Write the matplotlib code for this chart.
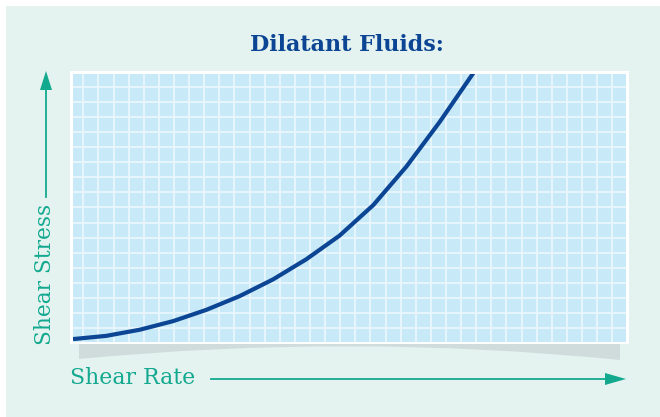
import matplotlib
matplotlib.use("Agg")
import matplotlib.pyplot as plt
import numpy as np
from matplotlib.patches import Rectangle, PathPatch, Polygon
from matplotlib.path import Path

# ---- data ----
shear_rate = [0, 6.0, 12.1, 18.1, 24.1, 30.1, 36.2, 42.2, 48.2, 54.3, 60.3, 66.3, 72.6]
shear_stress = [0.9, 2.1, 4.4, 7.6, 11.8, 16.9, 23.2, 30.7, 39.5, 50.9, 65.3, 81.9, 100.8]
title_text = "Dilatant Fluids:"
x_label = "Shear Rate"
y_label = "Shear Stress"

W, H = 660, 417
fig = plt.figure(figsize=(W / 100, H / 100), dpi=100)
fig.patch.set_facecolor("white")

def fx(x):
    return x / W

def fy(y):
    return 1 - y / H

MINT = "#e5f3f0"
TEAL = "#12a98f"
NAVY = "#0b4594"
BLUE = "#c8e9f8"
GRIDC = "#eaf6fd"
SHADOW = "#cfdcdb"

# mint background
fig.patches.append(Rectangle((fx(6), 0), 1 - fx(6), fy(6), transform=fig.transFigure,
                             facecolor=MINT, edgecolor="none", zorder=0))

# shadow under the panel
verts = [(fx(79), fy(343)), (fx(620), fy(343)), (fx(620), fy(360)),
         (fx(350), fy(333)), (fx(79), fy(359)), (fx(79), fy(343))]
codes = [Path.MOVETO, Path.LINETO, Path.LINETO, Path.CURVE3, Path.CURVE3, Path.CLOSEPOLY]
fig.patches.append(PathPatch(Path(verts, codes), transform=fig.transFigure,
                             facecolor=SHADOW, edgecolor="none", zorder=1))

# white frame
fig.patches.append(Rectangle((fx(70), fy(344)), fx(629) - fx(70), fy(71) - fy(344),
                             transform=fig.transFigure, facecolor="white",
                             edgecolor="none", zorder=2))

ax = fig.add_axes([fx(73), fy(341.5), fx(626) - fx(73), fy(73.5) - fy(341.5)])
ax.set_zorder(3)
ax.set_facecolor(BLUE)
ax.set_xlim(0, 100)
ax.set_ylim(0, 100)

# grid
xg = 1.86 + 2.733 * np.arange(36)
yg = 4.93 + 5.634 * np.arange(17)
for v in xg:
    ax.axvline(v, color=GRIDC, lw=1.3, zorder=1)
for v in yg:
    ax.axhline(v, color=GRIDC, lw=1.3, zorder=1)

ax.plot(shear_rate, shear_stress, color=NAVY, lw=3.0, solid_capstyle="butt",
        solid_joinstyle="round", zorder=3)

ax.set_xticks([])
ax.set_yticks([])
for s in ax.spines.values():
    s.set_visible(False)

# title
fig.text(fx(347), fy(45), title_text, ha="center", va="center",
         fontsize=16, fontweight="bold", family="DejaVu Serif", color=NAVY)

# x label + arrow
fig.text(fx(70), fy(378), x_label, ha="left", va="center",
         fontsize=15.8, family="DejaVu Serif", color=TEAL)
fig.add_artist(plt.Line2D([fx(211), fx(608)], [fy(379), fy(379)],
                          transform=fig.transFigure, color=TEAL, lw=1.3))
fig.patches.append(Polygon(
    [(fx(605), fy(373)), (fx(626), fy(379)), (fx(605), fy(385))],
    closed=True, transform=fig.transFigure, facecolor=TEAL, edgecolor="none"))

# y label + arrow
fig.text(fx(45), fy(345), y_label, ha="center", va="bottom", rotation=90,
         fontsize=15.6, family="DejaVu Serif", color=TEAL)
fig.add_artist(plt.Line2D([fx(46), fx(46)], [fy(197), fy(85)],
                          transform=fig.transFigure, color=TEAL, lw=1.3))
fig.patches.append(Polygon(
    [(fx(40), fy(90)), (fx(46), fy(71)), (fx(52), fy(90))],
    closed=True, transform=fig.transFigure, facecolor=TEAL, edgecolor="none"))

fig.savefig("out.png", dpi=100)
